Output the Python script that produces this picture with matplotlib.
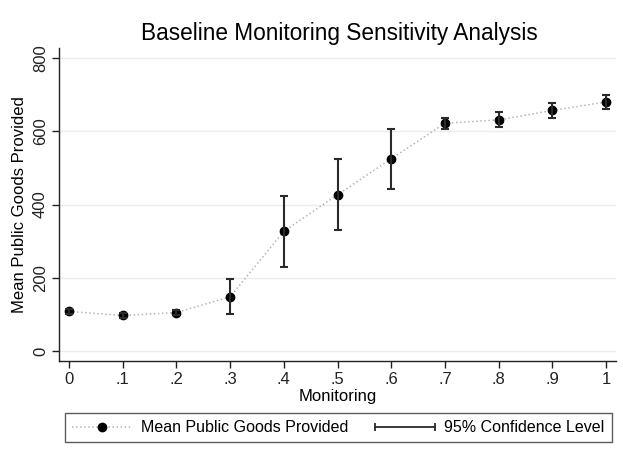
import matplotlib
matplotlib.use("Agg")
import matplotlib.pyplot as plt
from matplotlib.lines import Line2D
from matplotlib.legend_handler import HandlerLine2D

plt.rcParams["font.family"] = ["Liberation Sans", "DejaVu Sans"]

# monitoring level, mean provision and 95% CI bounds
monitoring = [0, .1, .2, .3, .4, .5, .6, .7, .8, .9, 1]
mean_goods = [108, 97, 105, 148, 327, 427, 525, 622, 631, 657, 680]
ci_low = [101, 91, 98, 102, 230, 330, 443, 607, 612, 636, 660]
ci_high = [116, 104, 113, 196, 422, 525, 607, 637, 652, 678, 699]
xtick_vals = [0, .1, .2, .3, .4, .5, .6, .7, .8, .9, 1]
xtick_labels = ["0", ".1", ".2", ".3", ".4", ".5", ".6", ".7", ".8", ".9", "1"]
ytick_vals = [0, 200, 400, 600, 800]

fig = plt.figure(figsize=(6.23, 4.63), dpi=100)
ax = fig.add_axes([0.0947, 0.2203, 0.8943, 0.6757])

err_lo = [m - l for m, l in zip(mean_goods, ci_low)]
err_hi = [h - m for m, h in zip(mean_goods, ci_high)]

ax.plot(monitoring, mean_goods, linestyle=":", color="#b5b5b5", linewidth=1.1, zorder=2)
ax.plot(monitoring, mean_goods, linestyle="none", marker="o", markersize=6.0,
        color="black", zorder=3)
ax.errorbar(monitoring, mean_goods, yerr=[err_lo, err_hi], fmt="none",
            ecolor="#2a2a2a", elinewidth=1.5, capsize=2.7, capthick=1.5, zorder=4)

ax.set_xlim(-0.0186, 1.0186)
ax.set_ylim(-27.3, 827)
ax.set_xticks(xtick_vals)
ax.set_xticklabels(xtick_labels)
ax.set_yticks(ytick_vals)
ax.set_yticklabels([str(v) for v in ytick_vals], rotation=90, va="center")
ax.tick_params(axis="both", direction="out", length=5, width=1, labelsize=12,
               colors="#222222", pad=3)
ax.grid(axis="y", color="#ececec", linewidth=1)
ax.set_axisbelow(True)
for side in ("top", "right"):
    ax.spines[side].set_visible(False)
for side in ("left", "bottom"):
    ax.spines[side].set_color("#222222")
    ax.spines[side].set_linewidth(1)

ax.set_xlabel("Monitoring", fontsize=12, labelpad=1)
ax.set_ylabel("Mean Public Goods Provided", fontsize=12, labelpad=4)
fig.text(0.545, 0.928, "Baseline Monitoring Sensitivity Analysis", ha="center",
         va="center", fontsize=16.3)

# legend below the plot region
h_mean = Line2D([], [], linestyle=":", color="#b5b5b5", linewidth=1.1,
                marker="o", markersize=6.0, markerfacecolor="black",
                markeredgecolor="black")
h_ci = Line2D([], [], linestyle="-", color="#2a2a2a", linewidth=1.3,
              marker="|", markersize=6, markeredgewidth=1.3)
leg = fig.legend([h_mean, h_ci], ["Mean Public Goods Provided", "95% Confidence Level"],
                 handler_map={h_ci: HandlerLine2D(numpoints=2, marker_pad=0)},
                 loc="center", bbox_to_anchor=(0.543, 0.076), ncol=2, fontsize=11.5,
                 frameon=True, fancybox=False, handlelength=3.7, handletextpad=0.6,
                 columnspacing=1.7, borderpad=0.45, borderaxespad=0)
leg.get_frame().set_edgecolor("#333333")
leg.get_frame().set_linewidth(1)

fig.savefig("out.png", dpi=100)
